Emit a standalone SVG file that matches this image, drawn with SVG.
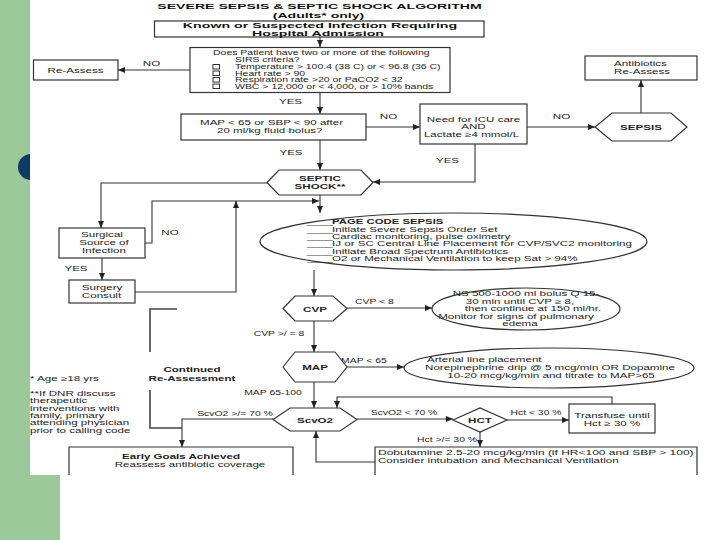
<svg xmlns="http://www.w3.org/2000/svg" width="720" height="540" viewBox="0 0 720 540">
<style>
.t{font-family:"Liberation Sans",Arial,sans-serif;font-size:7px;fill:#222}
.s{font-family:"Liberation Sans",Arial,sans-serif;font-size:6.6px;fill:#222}
.b{font-weight:bold}
.big{font-family:"Liberation Sans",Arial,sans-serif;font-size:8px;font-weight:bold;fill:#111}
.box{fill:#fff;stroke:#333;stroke-width:1.2}
.chk{fill:none;stroke:#333;stroke-width:1}
.ln{fill:none;stroke:#333;stroke-width:1.1}
.br{fill:none;stroke:#444;stroke-width:1.6}
</style>
<defs>
<marker id="ah" markerUnits="userSpaceOnUse" markerWidth="7" markerHeight="6" refX="7" refY="3" orient="auto">
<path d="M0,0 L7,3 L0,6 z" fill="#222"/>
</marker>
</defs>
<rect x="0" y="0" width="720" height="540" fill="#fff"/>
<rect x="0" y="0" width="30" height="475" fill="#9cc999"/>
<rect x="0" y="475" width="60" height="65" fill="#9cc999"/>
<circle cx="31" cy="167" r="13" fill="#0c3b66"/>
<rect x="30" y="0" width="690" height="475" fill="#fff"/>

<g id="title">
<text class="big" text-anchor="middle" transform="translate(319.5,9) scale(1.763,1)">SEVERE SEPSIS &amp; SEPTIC SHOCK ALGORITHM</text>
<text class="big" text-anchor="middle" transform="translate(318.5,18.3) scale(1.763,1)">(Adults* only)</text>
</g>

<g id="connectors">
<path class="ln" d="M320,37 V47" marker-end="url(#ah)"/>
<path class="ln" d="M190,70 H118" marker-end="url(#ah)"/>
<path class="ln" d="M320,93 V114" marker-end="url(#ah)"/>
<path class="ln" d="M366,127 H420" marker-end="url(#ah)"/>
<path class="ln" d="M527,127 H595" marker-end="url(#ah)"/>
<path class="ln" d="M641,113 V80" marker-end="url(#ah)"/>
<path class="ln" d="M320,140 V170" marker-end="url(#ah)"/>
<path class="ln" d="M475,144 V182 H373" marker-end="url(#ah)"/>
<path class="ln" d="M267,183 H101 V228" marker-end="url(#ah)"/>
<path class="ln" d="M145,243 H152 V201 H319" marker-end="url(#ah)"/>
<path class="ln" d="M320,195 V213" marker-end="url(#ah)"/>
<path class="ln" d="M102,258 V280" marker-end="url(#ah)"/>
<path class="ln" d="M135,292 H236 V201" marker-end="url(#ah)"/>
<path class="ln" d="M314,270 V296" marker-end="url(#ah)"/>
<path class="ln" d="M347,308 H432" marker-end="url(#ah)"/>
<path class="ln" d="M314,321 V352" marker-end="url(#ah)"/>
<path class="ln" d="M347,367 H404" marker-end="url(#ah)"/>
<path class="ln" d="M314,382 V408" marker-end="url(#ah)"/>
<path class="ln" d="M273,419 H182 V447" marker-end="url(#ah)"/>
<path class="ln" d="M357,419 H453" marker-end="url(#ah)"/>
<path class="ln" d="M507,420 H569" marker-end="url(#ah)"/>
<path class="ln" d="M612,404 V397 H337 V408" marker-end="url(#ah)"/>
<path class="ln" d="M480,432 V447" marker-end="url(#ah)"/>
<path class="ln" d="M375,462 H316 V431" marker-end="url(#ah)"/>
<path class="br" d="M177,309 H150 V352"/>
<path class="br" d="M150,390 V428 H182"/>
<text class="t" text-anchor="middle" transform="translate(151.5,66) scale(1.657,1)">NO</text>
<text class="t" text-anchor="middle" transform="translate(290.5,104) scale(1.657,1)">YES</text>
<text class="t" text-anchor="middle" transform="translate(291,155) scale(1.657,1)">YES</text>
<text class="t" text-anchor="middle" transform="translate(388.5,119) scale(1.657,1)">NO</text>
<text class="t" text-anchor="middle" transform="translate(561.5,119) scale(1.657,1)">NO</text>
<text class="t" text-anchor="middle" transform="translate(447.5,163) scale(1.657,1)">YES</text>
<text class="t" text-anchor="middle" transform="translate(170,235) scale(1.657,1)">NO</text>
<text class="t" text-anchor="middle" transform="translate(76,271) scale(1.657,1)">YES</text>
<text class="t" text-anchor="middle" transform="translate(374.5,304) scale(1.486,1)">CVP &lt; 8</text>
<text class="t" text-anchor="middle" transform="translate(279,336) scale(1.486,1)">CVP &gt;/ = 8</text>
<text class="t" text-anchor="middle" transform="translate(364,363) scale(1.486,1)">MAP &lt; 65</text>
<text class="t" text-anchor="middle" transform="translate(273,395) scale(1.486,1)">MAP 65-100</text>
<text class="t" text-anchor="middle" transform="translate(235,416) scale(1.486,1)">ScvO2 &gt;/= 70 %</text>
<text class="t" text-anchor="middle" transform="translate(404,415) scale(1.486,1)">ScvO2 &lt; 70 %</text>
<text class="t" text-anchor="middle" transform="translate(536,415) scale(1.486,1)">Hct &lt; 30 %</text>
<text class="t" text-anchor="middle" transform="translate(447,442) scale(1.486,1)">Hct &gt;/= 30 %</text>
<text class="t b" text-anchor="middle" transform="translate(192,372) scale(1.657,1)">Continued</text>
<text class="t b" text-anchor="middle" transform="translate(192,380.5) scale(1.657,1)">Re-Assessment</text>
</g>

<g id="n-admission">
<rect class="box" x="154.5" y="21" width="329.5" height="16"/>
<text class="big" text-anchor="middle" transform="translate(320,27.6) scale(1.775,1)">Known or Suspected Infection Requiring</text>
<text class="big" text-anchor="middle" transform="translate(318,35.8) scale(1.775,1)">Hospital Admission</text>
</g>

<g id="n-sirs">
<rect class="box" x="190" y="47.5" width="260" height="45"/>
<text class="s" transform="translate(213,55) scale(1.59,1)">Does Patient have two or more of the following</text>
<text class="s" transform="translate(235,61.5) scale(1.59,1)">SIRS criteria?</text>
<rect class="chk" x="213" y="64.5" width="6.5" height="4.5"/>
<rect class="chk" x="213" y="71" width="6.5" height="4.5"/>
<rect class="chk" x="213" y="77.5" width="6.5" height="4.5"/>
<rect class="chk" x="213" y="84" width="6.5" height="4.5"/>
<text class="s" transform="translate(235,69) scale(1.59,1)">Temperature &gt; 100.4 (38 C) or &lt; 96.8 (36 C)</text>
<text class="s" transform="translate(235,75.5) scale(1.59,1)">Heart rate &gt; 90</text>
<text class="s" transform="translate(235,82) scale(1.59,1)">Respiration rate &gt;20 or PaCO2 &lt; 32</text>
<text class="s" transform="translate(235,88.5) scale(1.59,1)">WBC &gt; 12,000 or &lt; 4,000, or &gt; 10% bands</text>
</g>

<g id="n-reassess">
<rect class="box" x="33.5" y="60" width="84.5" height="20"/>
<text class="t" text-anchor="middle" transform="translate(75.5,72.5) scale(1.657,1)">Re-Assess</text>
</g>

<g id="n-map-sbp">
<rect class="box" x="181" y="114" width="185" height="26"/>
<text class="t" transform="translate(200,125) scale(1.657,1)">MAP &lt; 65 or SBP &lt; 90 after</text>
<text class="t" transform="translate(217,132.5) scale(1.657,1)">20 ml/kg fluid bolus?</text>
</g>

<g id="n-icu">
<rect class="box" x="420" y="104" width="107" height="40"/>
<text class="t" text-anchor="middle" transform="translate(473.5,122) scale(1.657,1)">Need for ICU care</text>
<text class="t" text-anchor="middle" transform="translate(473.5,129) scale(1.657,1)">AND</text>
<text class="t" text-anchor="middle" transform="translate(471.5,137) scale(1.657,1)">Lactate ≥4 mmol/L</text>
</g>

<g id="n-sepsis">
<polygon class="box" points="595,127 612,113 671,113 687,127 671,141 612,141"/>
<text class="t b" text-anchor="middle" transform="translate(641,130) scale(1.657,1)">SEPSIS</text>
</g>

<g id="n-antibiotics">
<rect class="box" x="585" y="56" width="112" height="24"/>
<text class="t" text-anchor="middle" transform="translate(640.5,66) scale(1.657,1)">Antibiotics</text>
<text class="t" text-anchor="middle" transform="translate(642,74) scale(1.657,1)">Re-Assess</text>
</g>

<g id="n-septic-shock">
<polygon class="box" points="267,182.5 279,170 361,170 373,182.5 361,195 279,195"/>
<text class="t b" text-anchor="middle" transform="translate(320,181) scale(1.657,1)">SEPTIC</text>
<text class="t b" text-anchor="middle" transform="translate(320,188.5) scale(1.657,1)">SHOCK**</text>
</g>

<g id="n-surgical">
<rect class="box" x="59" y="228" width="86" height="30"/>
<text class="t" text-anchor="middle" transform="translate(102,237) scale(1.657,1)">Surgical</text>
<text class="t" text-anchor="middle" transform="translate(104,244.5) scale(1.657,1)">Source of</text>
<text class="t" text-anchor="middle" transform="translate(104,252.5) scale(1.657,1)">Infection</text>
</g>

<g id="n-surgery-consult">
<rect class="box" x="69" y="280" width="66" height="23"/>
<text class="t" text-anchor="middle" transform="translate(102,290) scale(1.657,1)">Surgery</text>
<text class="t" text-anchor="middle" transform="translate(101.5,297.5) scale(1.657,1)">Consult</text>
</g>

<g id="n-page-code">
<ellipse class="box" cx="453.5" cy="241.5" rx="193.5" ry="28.5"/>
<text class="t" transform="translate(307,224) scale(1.657,1)">____</text>
<text class="t b" transform="translate(332,224) scale(1.623,1)">PAGE CODE SEPSIS</text>
<text class="t" transform="translate(307,231.5) scale(1.657,1)">____</text>
<text class="t" transform="translate(332,231.5) scale(1.657,1)">Initiate Severe Sepsis Order Set</text>
<text class="t" transform="translate(307,238.5) scale(1.657,1)">____</text>
<text class="t" transform="translate(332,238.5) scale(1.657,1)">Cardiac monitoring, pulse oximetry</text>
<text class="t" transform="translate(307,246) scale(1.657,1)">____</text>
<text class="t" transform="translate(332,246) scale(1.657,1)">IJ or SC Central Line Placement for CVP/SVC2 monitoring</text>
<text class="t" transform="translate(307,253.5) scale(1.657,1)">____</text>
<text class="t" transform="translate(332,253.5) scale(1.657,1)">Initiate Broad Spectrum Antibiotics</text>
<text class="t" transform="translate(307,261) scale(1.657,1)">____</text>
<text class="t" transform="translate(332,261) scale(1.657,1)">O2 or Mechanical Ventilation to keep Sat &gt; 94%</text>
</g>

<g id="n-cvp">
<polygon class="box" points="283,308.5 295,296 333,296 347,308.5 333,321 295,321"/>
<text class="t b" text-anchor="middle" transform="translate(315,311.5) scale(1.657,1)">CVP</text>
</g>

<g id="n-ns-bolus">
<ellipse class="box" cx="526" cy="309" rx="94" ry="21"/>
<text class="t" text-anchor="middle" transform="translate(526,296) scale(1.657,1)">NS 500-1000 ml bolus Q 15-</text>
<text class="t" text-anchor="middle" transform="translate(520,303.5) scale(1.657,1)">30 min until CVP ≥ 8,</text>
<text class="t" text-anchor="middle" transform="translate(533,311) scale(1.657,1)">then continue at 150 ml/hr.</text>
<text class="t" text-anchor="middle" transform="translate(516,318.5) scale(1.657,1)">Monitor for signs of pulmonary</text>
<text class="t" text-anchor="middle" transform="translate(520,326) scale(1.657,1)">edema</text>
</g>

<g id="n-map">
<polygon class="box" points="283,367 295,352 335,352 347,367 335,382 295,382"/>
<text class="t b" text-anchor="middle" transform="translate(315,370) scale(1.657,1)">MAP</text>
</g>

<g id="n-arterial">
<ellipse class="box" cx="549" cy="368" rx="145" ry="20"/>
<text class="t" transform="translate(427,361.5) scale(1.657,1)">Arterial line placement</text>
<text class="t" text-anchor="middle" transform="translate(550,370) scale(1.657,1)">Norepinephrine drip @ 5 mcg/min OR Dopamine</text>
<text class="t" text-anchor="middle" transform="translate(551,378) scale(1.657,1)">10-20 mcg/kg/min and titrate to MAP&gt;65</text>
</g>

<g id="n-scvo2">
<polygon class="box" points="273,419.5 290,408 340,408 357,419.5 340,431 290,431"/>
<text class="t b" text-anchor="middle" transform="translate(315,422.5) scale(1.657,1)">ScvO2</text>
</g>

<g id="n-hct">
<polygon class="box" points="453,420 480,408 507,420 480,432"/>
<text class="t b" text-anchor="middle" transform="translate(480,423) scale(1.657,1)">HCT</text>
</g>

<g id="n-transfuse">
<rect class="box" x="569" y="404" width="86" height="29"/>
<text class="t" text-anchor="middle" transform="translate(612,417.5) scale(1.657,1)">Transfuse until</text>
<text class="t" text-anchor="middle" transform="translate(612,425.5) scale(1.657,1)">Hct ≥ 30 %</text>
</g>

<g id="n-dobutamine">
<path class="box" d="M375,475 V447 H697 V475"/>
<text class="t" transform="translate(378,455) scale(1.714,1)">Dobutamine 2.5-20 mcg/kg/min (if HR&lt;100 and SBP &gt; 100)</text>
<text class="t" transform="translate(378,462.5) scale(1.657,1)">Consider intubation and Mechanical Ventilation</text>
</g>

<g id="n-early-goals">
<path class="box" d="M69,475 V447 H293 V475"/>
<text class="t b" text-anchor="middle" transform="translate(181,459) scale(1.657,1)">Early Goals Achieved</text>
<text class="t" text-anchor="middle" transform="translate(190,467) scale(1.657,1)">Reassess antibiotic coverage</text>
</g>

<g id="footnotes">
<text class="t" transform="translate(30,381) scale(1.657,1)">* Age ≥18 yrs</text>
<text class="t" transform="translate(30,396) scale(1.657,1)">**If DNR discuss</text>
<text class="t" transform="translate(30,403) scale(1.657,1)">therapeutic</text>
<text class="t" transform="translate(30,410.5) scale(1.657,1)">interventions with</text>
<text class="t" transform="translate(30,417.5) scale(1.657,1)">family, primary</text>
<text class="t" transform="translate(30,425) scale(1.657,1)">attending physician</text>
<text class="t" transform="translate(30,432.5) scale(1.657,1)">prior to calling  code</text>
</g>
</svg>
